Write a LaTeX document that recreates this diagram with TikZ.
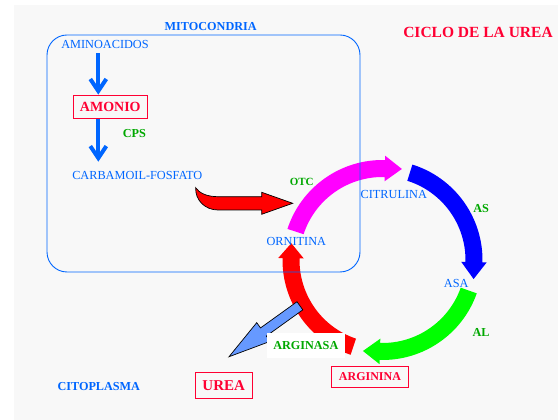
\documentclass[tikz,border=0pt]{standalone}
\usepackage{fontspec}
\setmainfont{Liberation Serif}
\usetikzlibrary{calc,arrows.meta}
\definecolor{tblue}{HTML}{0066FF}
\definecolor{tred}{HTML}{FF0033}
\definecolor{tgreen}{HTML}{00A800}
\definecolor{bggray}{HTML}{F8F8F8}
\definecolor{lblue}{HTML}{6699FF}
\definecolor{cmag}{HTML}{FF00FF}
\definecolor{cblue}{HTML}{0000FF}
\definecolor{cgreen}{HTML}{00FF00}
\definecolor{cred}{HTML}{FF0000}
% curved cycle arrow: colour, start angle, end angle, head length
\newcommand\cyclearrow[4]{%
  \fill[#1] ($(cc)+(#2:100pt)$) arc[start angle=#2,end angle=#3,radius=100pt]
    -- ($(cc)+(#3:104.25pt)$) -- ($(cc)+(#3:91.5pt)+(#3-90:#4pt)$)
    -- ($(cc)+(#3:78.75pt)$) -- ($(cc)+(#3:83pt)$)
    arc[start angle=#3,end angle=#2,radius=83pt] -- cycle;}
\begin{document}
\begin{tikzpicture}[x=1pt,y=1pt,
  lbl/.style={inner sep=0pt, text=tblue, font=\fontsize{12.3}{14}\selectfont},
  blbl/.style={inner sep=0pt, text=tblue, font=\fontsize{12.2}{14}\selectfont\bfseries},
  enz/.style={inner sep=0pt, text=tgreen, font=\fontsize{12.2}{14}\selectfont\bfseries},
  prod/.style={draw=tred, line width=0.9pt, text=tred, inner sep=0pt, font=\fontsize{12}{14}\selectfont\bfseries},
  bluearrow/.style={draw=tblue, line width=4pt, -{Straight Barb[length=12pt 0,width=16pt 0]}},
  curvedarrow/.style={fill=cred, draw=black, line width=0.7pt},
  outarrow/.style={fill=lblue, draw=black, line width=0.7pt}]
\useasboundingbox (0,0) rectangle (558,420);
\fill[white] (0,0) rectangle (558,420);
\fill[bggray] (14,0) rectangle (558,415);

% cycle
\coordinate (cc) at (382.5,160);
\cyclearrow{cmag}{161.9}{88.5}{17}
\cyclearrow{cblue}{72.6}{-1.3}{17}
\cyclearrow{cgreen}{-19.5}{-91.6}{17}
\cyclearrow{cred}{251.4}{178.9}{15}

% mitochondria
\draw[tblue, line width=0.9pt, rounded corners=20pt] (47,148) rectangle (360,385);

% curved red arrow into the cycle
\coordinate (ct) at (195.7,232.3);
\draw[curvedarrow] (ct) .. controls (199,227) and (207,223.3) .. (218,223.3)
  -- (261.7,223.3) -- (261.7,227.7) -- (292.7,216.7) -- (261.7,205.7)
  -- (261.7,210) -- (218,210) .. controls (205,210) and (195,220) .. (ct) -- cycle;

% urea output arrow
\begin{scope}[shift={(299.9,114.2)}, rotate=215.7]
  \draw[outarrow] (0,5) -- (44.9,5) -- (44.9,11.5) -- (87.3,0) -- (44.9,-11.5) -- (44.9,-5) -- (0,-5) -- cycle;
\end{scope}

% texts
\node[blbl] (mito) at (210.7,393.3) {MITOCONDRIA};
\node[lbl] (amino) at (105,375.3) {AMINOACIDOS};
\node[prod, minimum width=73.3pt, minimum height=23.3pt, font=\fontsize{14}{16}\selectfont\bfseries] (amonio) at (110.3,313.3) {AMONIO};
\node[enz] (cps) at (134.3,286) {CPS};
\node[lbl] (carb) at (137.3,244.3) {CARBAMOIL-FOSFATO};
\node[enz, font=\fontsize{11}{13}\selectfont\bfseries] (otc) at (301.7,237.7) {OTC};
\node[lbl] (citr) at (393.8,225.7) {CITRULINA};
\node[lbl] (orn) at (296.3,178.3) {ORNITINA};
\node[lbl] (asa) at (456.3,136.7) {ASA};
\node[enz] (as) at (481.2,211) {AS};
\node[enz] (al) at (481,87.3) {AL};
\node[prod, minimum width=76.6pt, minimum height=20.6pt] (argn) at (370,43) {ARGININA};
\node[prod, minimum width=57.3pt, minimum height=25.6pt, font=\fontsize{15}{17}\selectfont\bfseries] (urea) at (223.7,34.5) {UREA};
\node[blbl] (cito) at (98.8,33.3) {CITOPLASMA};
\node[inner sep=0pt, text=tred, font=\fontsize{15.5}{18}\selectfont\bfseries] (title) at (478,388) {CICLO DE LA UREA};
\node[enz, fill=white, minimum width=78.3pt, minimum height=25pt] (arginasa) at (305.8,74.5) {ARGINASA};

% vertical blue arrows
\coordinate (vx) at (98.3,0);
\coordinate (v1s) at (98.3,366.7);
\coordinate (v2e) at (98.3,258.3);
\draw[bluearrow] (v1s) -- (amonio.north -| vx);
\draw[bluearrow] (amonio.south -| vx) -- (v2e);
\end{tikzpicture}
\end{document}
